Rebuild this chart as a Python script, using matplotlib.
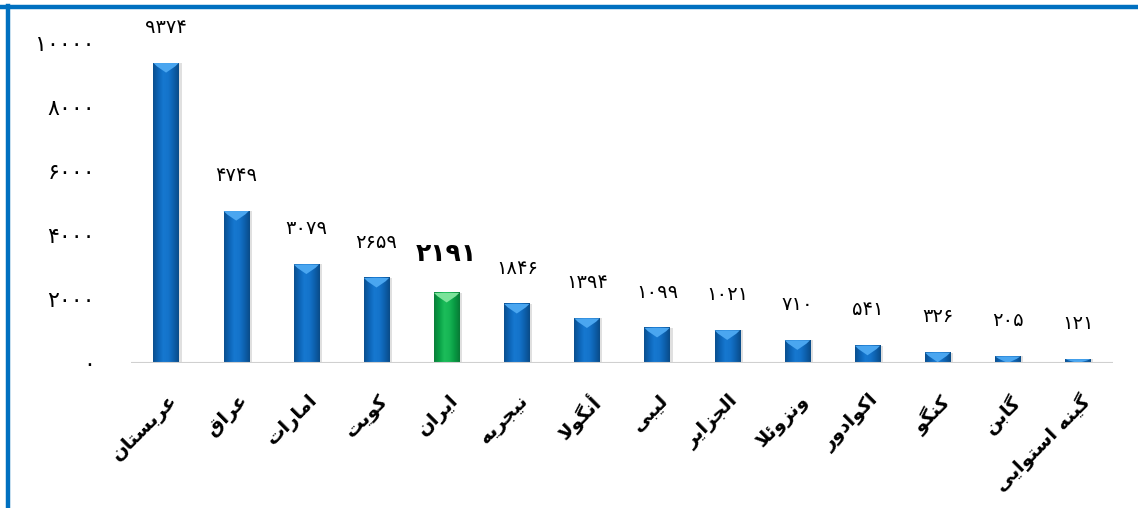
import numpy as np
import matplotlib
matplotlib.use("Agg")
import matplotlib.pyplot as plt
from matplotlib.colors import LinearSegmentedColormap
from matplotlib.lines import Line2D
from matplotlib.patches import Polygon

countries = ["عربستان", "عراق", "امارات", "کویت", "ایران", "نیجریه", "أنگولا",
             "لیبی", "الجزایر", "ونزوئلا", "اکوادور", "کنگو", "گابن", "گینه استوایی"]
values = [9374, 4749, 3079, 2659, 2191, 1846, 1394, 1099, 1021, 710, 541, 326, 205, 121]
highlight = "ایران"
yticks = [0, 2000, 4000, 6000, 8000, 10000]

# ---------- minimal Arabic/Persian shaping (presentation forms) ----------
DUAL = {
    "ب": (0xFE8F, 0xFE90, 0xFE91, 0xFE92), "ت": (0xFE95, 0xFE96, 0xFE97, 0xFE98),
    "ج": (0xFE9D, 0xFE9E, 0xFE9F, 0xFEA0), "س": (0xFEB1, 0xFEB2, 0xFEB3, 0xFEB4),
    "ع": (0xFEC9, 0xFECA, 0xFECB, 0xFECC), "ق": (0xFED5, 0xFED6, 0xFED7, 0xFED8),
    "ل": (0xFEDD, 0xFEDE, 0xFEDF, 0xFEE0), "م": (0xFEE1, 0xFEE2, 0xFEE3, 0xFEE4),
    "ن": (0xFEE5, 0xFEE6, 0xFEE7, 0xFEE8), "ه": (0xFEE9, 0xFEEA, 0xFEEB, 0xFEEC),
    "ی": (0xFBFC, 0xFBFD, 0xFBFE, 0xFBFF), "ک": (0xFB8E, 0xFB8F, 0xFB90, 0xFB91),
    "گ": (0xFB92, 0xFB93, 0xFB94, 0xFB95), "ئ": (0xFE89, 0xFE8A, 0xFE8B, 0xFE8C),
}
RIGHT = {
    "ا": (0xFE8D, 0xFE8E), "آ": (0xFE81, 0xFE82), "أ": (0xFE83, 0xFE84),
    "د": (0xFEA9, 0xFEAA), "ر": (0xFEAD, 0xFEAE), "ز": (0xFEAF, 0xFEB0),
    "و": (0xFEED, 0xFEEE),
}
LAMALEF = {"ا": (0xFEFB, 0xFEFC), "آ": (0xFEF5, 0xFEF6), "أ": (0xFEF7, 0xFEF8)}


def shape(word):
    chars = []
    i = 0
    while i < len(word):
        if word[i] == "ل" and i + 1 < len(word) and word[i + 1] in LAMALEF:
            chars.append(("LA", word[i + 1]))
            i += 2
        else:
            chars.append(word[i])
            i += 1

    def joins_left(c):
        return isinstance(c, str) and c in DUAL

    def joins_right(c):
        return (isinstance(c, tuple)) or (isinstance(c, str) and (c in DUAL or c in RIGHT))

    out = []
    for k, c in enumerate(chars):
        prev = chars[k - 1] if k > 0 else None
        nxt = chars[k + 1] if k + 1 < len(chars) else None
        conn_prev = prev is not None and joins_left(prev) and joins_right(c)
        if isinstance(c, tuple):
            f = LAMALEF[c[1]]
            out.append(chr(f[1] if conn_prev else f[0]))
            continue
        conn_next = nxt is not None and joins_left(c) and joins_right(nxt)
        if c in DUAL:
            f = DUAL[c]
            if conn_prev and conn_next:
                out.append(chr(f[3]))
            elif conn_prev:
                out.append(chr(f[1]))
            elif conn_next:
                out.append(chr(f[2]))
            else:
                out.append(chr(f[0]))
        elif c in RIGHT:
            f = RIGHT[c]
            out.append(chr(f[1] if conn_prev else f[0]))
        else:
            out.append(c)
    return "".join(out)[::-1]


def rtl(text):
    words = text.split(" ")
    return " ".join(shape(w) for w in words[::-1])


PDIG = "۰۱۲۳۴۵۶۷۸۹"


def fa(n):
    return "".join(PDIG[int(d)] for d in str(n))


# ---------- figure ----------
W, H, DPI = 1138, 508, 100
fig = plt.figure(figsize=(W / DPI, H / DPI), dpi=DPI)
fig.patch.set_facecolor("white")

ax_l, ax_r = 131 / W, 1113 / W
ax_b, ax_t = 1 - 363 / H, 1 - 43 / H
ax = fig.add_axes([ax_l, ax_b, ax_r - ax_l, ax_t - ax_b])
ax.set_facecolor("none")

x = np.arange(len(values))
bw = 0.36

blue_cmap = LinearSegmentedColormap.from_list(
    "b", ["#0a4f8f", "#0c64b6", "#1678d0", "#1473ca", "#0d60ad", "#0a4c88"])
green_cmap = LinearSegmentedColormap.from_list(
    "g", ["#0a7f3a", "#08a046", "#1cbd5a", "#16b554", "#089a43", "#087a36"])
grad = np.linspace(0, 1, 64).reshape(1, -1)

bevel = 300
for xi, v, name in zip(x, values, countries):
    hl = name == highlight
    cmap = green_cmap if hl else blue_cmap
    ax.bar(xi + 0.04, v, width=bw, color="#000000", alpha=0.12, zorder=1, linewidth=0)
    ax.imshow(grad, cmap=cmap, aspect="auto", extent=[xi - bw / 2, xi + bw / 2, 0, v],
              zorder=2, interpolation="bilinear")
    top_col = "#7be39a" if hl else "#4aa6f0"
    b = min(bevel, v)
    tri = Polygon([[xi - bw / 2, v], [xi + bw / 2, v], [xi + bw / 2 - 0.05, v - b * 0.35],
                   [xi, v - b], [xi - bw / 2 + 0.05, v - b * 0.35]],
                  closed=True, facecolor=top_col, edgecolor="none", zorder=3)
    ax.add_patch(tri)
    if hl:
        ax.text(xi, v + 850, fa(v), ha="center", va="bottom", fontsize=18,
                fontweight="bold", family="DejaVu Sans", color="black")
    else:
        ax.text(xi, v + 820, fa(v), ha="center", va="bottom", fontsize=14,
                family="DejaVu Sans", color="black")

ax.set_xlim(-0.5, len(values) - 0.5)
ax.set_ylim(0, 10000)
ax.axhline(0, color="#d0d0d0", linewidth=1.5, zorder=4)

for s in ax.spines.values():
    s.set_visible(False)
ax.set_yticks(yticks)
ax.set_yticklabels([fa(t) for t in yticks], fontsize=16, family="DejaVu Sans")
ax.tick_params(axis="y", length=0, pad=26)
ax.set_xticks([])

for xi, name in zip(x, countries):
    ax.annotate(rtl(name), xy=(xi, 0), xycoords="data", xytext=(1, -20),
                textcoords="offset points", rotation=45, ha="right", va="top",
                rotation_mode="anchor", fontsize=14, fontweight="bold",
                family="DejaVu Sans", color="black")

# blue frame (top and left)
fig.add_artist(Line2D([0, 1], [1 - 7 / H, 1 - 7 / H], transform=fig.transFigure,
                      color="#0070c0", linewidth=3.2))
fig.add_artist(Line2D([8 / W, 8 / W], [0, 1 - 5.5 / H], transform=fig.transFigure,
                      color="#0070c0", linewidth=3.2))

fig.savefig("out.png", dpi=DPI, facecolor="white")
